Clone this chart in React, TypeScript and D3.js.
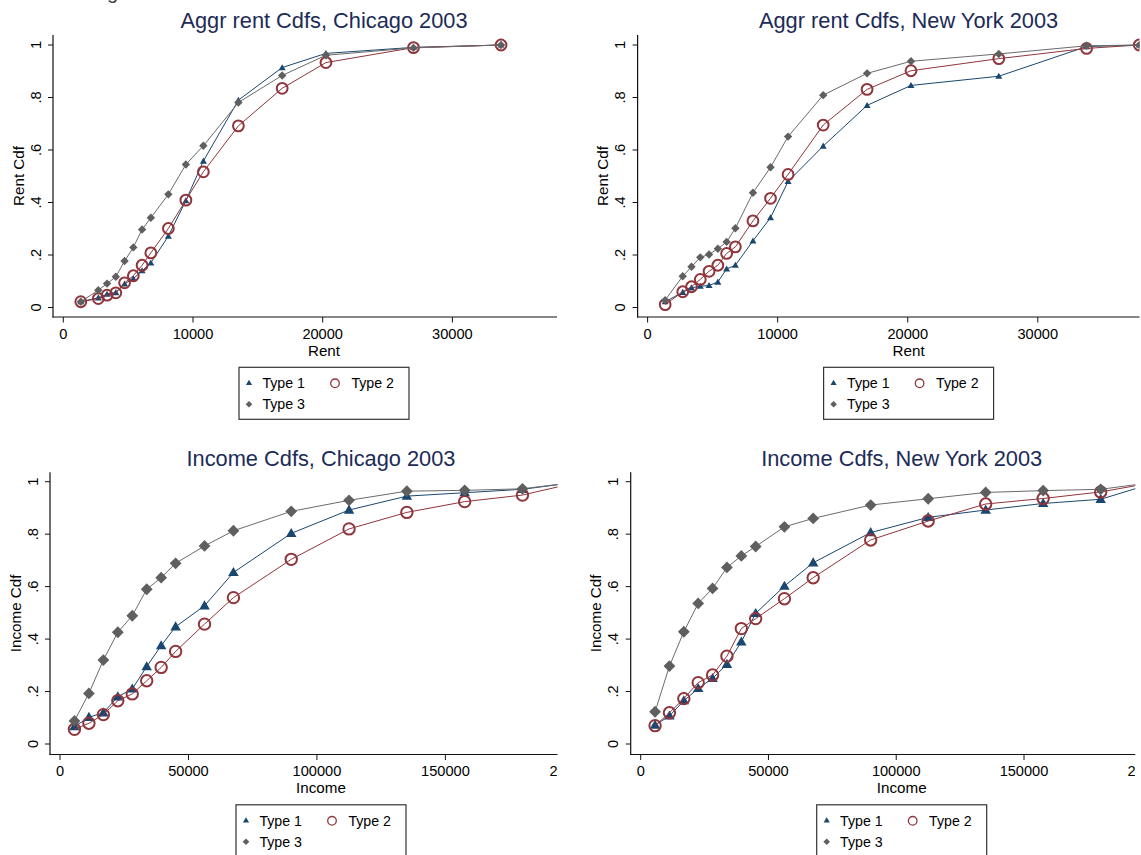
import React from "react";
import * as d3 from "d3";

// ---------- data ----------
const rentPoints = [1350, 2700, 3375, 4050, 4725, 5400, 6075, 6750, 8100, 9450, 10800, 13500, 16875, 20250, 27000, 33750, 37800];
const incomePoints = [5625, 11250, 16875, 22500, 28125, 33750, 39375, 45000, 56250, 67500, 90000, 112500, 135000, 157500, 180000, 202500];

const chicagoRentType1 = [0.022, 0.037, 0.051, 0.057, 0.09, 0.11, 0.14, 0.17, 0.272, 0.407, 0.558, 0.79, 0.914, 0.968, 0.991, 1.0];
const chicagoRentType2 = [0.022, 0.034, 0.047, 0.056, 0.094, 0.121, 0.161, 0.208, 0.301, 0.409, 0.517, 0.692, 0.835, 0.933, 0.99, 1.0];
const chicagoRentType3 = [0.022, 0.066, 0.091, 0.117, 0.177, 0.229, 0.297, 0.342, 0.431, 0.545, 0.616, 0.781, 0.884, 0.961, 0.989, 1.0];

const newYorkRentType1 = [0.022, 0.058, 0.075, 0.081, 0.084, 0.097, 0.147, 0.161, 0.254, 0.342, 0.48, 0.615, 0.77, 0.846, 0.881, 0.994, 1.0];
const newYorkRentType2 = [0.011, 0.06, 0.079, 0.107, 0.138, 0.161, 0.206, 0.231, 0.33, 0.416, 0.507, 0.695, 0.831, 0.902, 0.948, 0.987, 1.0];
const newYorkRentType3 = [0.028, 0.119, 0.155, 0.191, 0.202, 0.224, 0.25, 0.302, 0.437, 0.534, 0.651, 0.809, 0.892, 0.938, 0.966, 0.997, 1.0];

const chicagoIncomeType1 = [0.066, 0.102, 0.119, 0.18, 0.21, 0.295, 0.375, 0.447, 0.527, 0.654, 0.803, 0.892, 0.945, 0.958, 0.971, 1.0];
const chicagoIncomeType2 = [0.056, 0.079, 0.112, 0.165, 0.191, 0.241, 0.292, 0.353, 0.457, 0.558, 0.704, 0.82, 0.883, 0.924, 0.949, 1.0];
const chicagoIncomeType3 = [0.088, 0.193, 0.32, 0.426, 0.489, 0.59, 0.634, 0.689, 0.755, 0.813, 0.887, 0.929, 0.964, 0.967, 0.973, 1.0];

const newYorkIncomeType1 = [0.072, 0.107, 0.165, 0.212, 0.25, 0.304, 0.389, 0.498, 0.602, 0.691, 0.806, 0.864, 0.892, 0.917, 0.933, 1.0];
const newYorkIncomeType2 = [0.07, 0.119, 0.173, 0.234, 0.263, 0.335, 0.44, 0.478, 0.554, 0.634, 0.778, 0.85, 0.915, 0.936, 0.961, 1.0];
const newYorkIncomeType3 = [0.123, 0.297, 0.428, 0.536, 0.593, 0.673, 0.717, 0.753, 0.828, 0.86, 0.911, 0.935, 0.959, 0.966, 0.971, 1.0];

const seriesNames = ["Type 1", "Type 2", "Type 3"];
const yTicks = [0, 0.2, 0.4, 0.6, 0.8, 1];
const yTickLabels = ["0", ".2", ".4", ".6", ".8", "1"];
const rentTicks = [0, 10000, 20000, 30000];
const incomeTicks = [0, 50000, 100000, 150000, 200000];

// ---------- styles ----------
const FONT = "'Liberation Sans', Arial, Helvetica, sans-serif";
const COLORS = ["#1a476f", "#90353b", "#5f5f5f"];
const LINE_COLORS = ["#1a476f", "#90353b", "#6b6b6b"];
const TITLE_COLOR = "#1c2b57";

type PanelCfg = {
  id: string;
  title: string;
  xLabel: string;
  yLabel: string;
  xs: number[];
  series: number[][];
  xTicks: number[];
  xDomain: [number, number];
  xRange: [number, number];
  yRange: [number, number];
  axisX: number;
  axisY: number;
  plotTop: number;
  clipRight: number;
  big: boolean;
};

const panels: PanelCfg[] = [
  {
    id: "p1", title: "Aggr rent Cdfs, Chicago 2003", xLabel: "Rent", yLabel: "Rent Cdf",
    xs: rentPoints, series: [chicagoRentType1, chicagoRentType2, chicagoRentType3],
    xTicks: rentTicks, xDomain: [0, 30000], xRange: [63.3, 452.4], yRange: [307.5, 45],
    axisX: 53, axisY: 317, plotTop: 35, clipRight: 557, big: false,
  },
  {
    id: "p2", title: "Aggr rent Cdfs, New York 2003", xLabel: "Rent", yLabel: "Rent Cdf",
    xs: rentPoints, series: [newYorkRentType1, newYorkRentType2, newYorkRentType3],
    xTicks: rentTicks, xDomain: [0, 30000], xRange: [647.6, 1037.8], yRange: [307.5, 45],
    axisX: 637.6, axisY: 317, plotTop: 35, clipRight: 1139.5, big: false,
  },
  {
    id: "p3", title: "Income Cdfs, Chicago 2003", xLabel: "Income", yLabel: "Income Cdf",
    xs: incomePoints, series: [chicagoIncomeType1, chicagoIncomeType2, chicagoIncomeType3],
    xTicks: incomeTicks, xDomain: [0, 150000], xRange: [60, 445.4], yRange: [744, 481.7],
    axisX: 50, axisY: 754.5, plotTop: 472.3, clipRight: 557.5, big: true,
  },
  {
    id: "p4", title: "Income Cdfs, New York 2003", xLabel: "Income", yLabel: "Income Cdf",
    xs: incomePoints, series: [newYorkIncomeType1, newYorkIncomeType2, newYorkIncomeType3],
    xTicks: incomeTicks, xDomain: [0, 150000], xRange: [640.7, 1024], yRange: [744, 481.7],
    axisX: 630.7, axisY: 754.5, plotTop: 472.3, clipRight: 1135.3, big: true,
  },
];

const PLOT_W = 542;

function Marker({ kind, x, y, big, legend }: { kind: number; x: number; y: number; big: boolean; legend?: boolean }) {
  if (kind === 0) {
    const side = legend ? 6.2 : big ? 10.5 : 7;
    const area = (side * side * Math.sqrt(3)) / 4;
    const d = d3.symbol(d3.symbolTriangle, area)() as string;
    return <path d={d} transform={`translate(${x},${y + (legend ? 0 : 0.6)})`} fill={COLORS[0]} />;
  }
  if (kind === 1) {
    const r = legend ? 4.3 : big ? 5.7 : 5.4;
    return <circle cx={x} cy={y} r={r} fill="none" stroke={COLORS[1]} strokeWidth={legend ? 1.3 : 2} />;
  }
  const half = legend ? 3.3 : big ? 5.9 : 4.2;
  const a = half * Math.SQRT2;
  const d = d3.symbol(d3.symbolSquare, a * a)() as string;
  return <path d={d} transform={`translate(${x},${y}) rotate(45)`} fill={COLORS[2]} />;
}

function Panel({ cfg }: { cfg: PanelCfg }) {
  const x = d3.scaleLinear().domain(cfg.xDomain).range(cfg.xRange);
  const y = d3.scaleLinear().domain([0, 1]).range(cfg.yRange);
  const center = cfg.axisX + PLOT_W / 2;
  const plotMidY = (cfg.plotTop + cfg.axisY) / 2;
  const line = d3
    .line<[number, number]>()
    .x((d) => x(d[0]))
    .y((d) => y(d[1]));
  const legendTop = cfg.axisY + 50.3;
  const legendLeft = center - 85;

  return (
    <g clipPath={`url(#clip-${cfg.id})`}>
      <defs>
        <clipPath id={`clip-${cfg.id}`}>
          <rect x={cfg.axisX - 80} y={0} width={cfg.clipRight - cfg.axisX + 80} height={900} />
        </clipPath>
      </defs>
      {/* title */}
      <text x={center} y={cfg.axisY - 289} textAnchor="middle" fontSize={21.8} fill={TITLE_COLOR} fontFamily={FONT}>
        {cfg.title}
      </text>
      {/* series */}
      {cfg.series.map((vals, si) => {
        const pts: [number, number][] = vals.map((v, i) => [cfg.xs[i], v]);
        return (
          <g key={si}>
            <path d={line(pts) as string} fill="none" stroke={LINE_COLORS[si]} strokeWidth={1} />
            {pts.map((p, i) => (
              <Marker key={i} kind={si} x={x(p[0])} y={y(p[1])} big={cfg.big} />
            ))}
          </g>
        );
      })}
      {/* axes */}
      <line x1={cfg.axisX} x2={cfg.axisX} y1={cfg.plotTop} y2={cfg.axisY + 0.5} stroke="#111" strokeWidth={1.2} />
      <line x1={cfg.axisX - 0.5} x2={cfg.axisX + PLOT_W} y1={cfg.axisY} y2={cfg.axisY} stroke="#111" strokeWidth={1.2} />
      {yTicks.map((t, i) => (
        <g key={`yt${i}`}>
          <line x1={cfg.axisX - 5} x2={cfg.axisX} y1={y(t)} y2={y(t)} stroke="#111" strokeWidth={1} />
          <text
            transform={`translate(${cfg.axisX - 17.5 + 5.2},${y(t)}) rotate(-90)`}
            textAnchor="middle"
            fontSize={14.6}
            fill="#000"
            fontFamily={FONT}
          >
            {yTickLabels[i]}
          </text>
        </g>
      ))}
      {cfg.xTicks.map((t, i) => (
        <g key={`xt${i}`}>
          <line x1={x(t)} x2={x(t)} y1={cfg.axisY} y2={cfg.axisY + 5.5} stroke="#111" strokeWidth={1} />
          <text x={x(t)} y={cfg.axisY + 21.5} textAnchor="middle" fontSize={14.6} fill="#000" fontFamily={FONT}>
            {String(t)}
          </text>
        </g>
      ))}
      <text x={center} y={cfg.axisY + 38.5} textAnchor="middle" fontSize={15.2} fill="#000" fontFamily={FONT}>
        {cfg.xLabel}
      </text>
      <text
        transform={`translate(${cfg.axisX - 34.7 + 5.4},${plotMidY}) rotate(-90)`}
        textAnchor="middle"
        fontSize={15.2}
        fill="#000"
        fontFamily={FONT}
      >
        {cfg.yLabel}
      </text>
      {/* legend */}
      <rect x={legendLeft} y={legendTop} width={170} height={52} fill="#fff" stroke="#333" strokeWidth={1.2} />
      {seriesNames.map((name, i) => {
        const col = i === 1 ? 1 : 0;
        const row = i === 2 ? 1 : 0;
        const mx = legendLeft + (col === 0 ? 10 : 96);
        const my = legendTop + (row === 0 ? 16 : 37);
        return (
          <g key={name}>
            <Marker kind={i} x={mx} y={my} big={false} legend />
            <text x={mx + 13.4 + (col === 1 ? 3 : 0)} y={my + 5} fontSize={14.2} fill="#000" fontFamily={FONT}>
              {name}
            </text>
          </g>
        );
      })}
    </g>
  );
}

export default function App() {
  return (
    <svg
      width={1141}
      height={855}
      style={{ position: "absolute", left: 0, top: 0, background: "#fff" }}
      xmlns="http://www.w3.org/2000/svg"
    >
      <rect x={0} y={0} width={1141} height={855} fill="#fff" />
      <text x={107} y={-1.5} fontSize={20} fill="#444" fontFamily={FONT}>g</text>
      {panels.map((p) => (
        <Panel key={p.id} cfg={p} />
      ))}
    </svg>
  );
}
